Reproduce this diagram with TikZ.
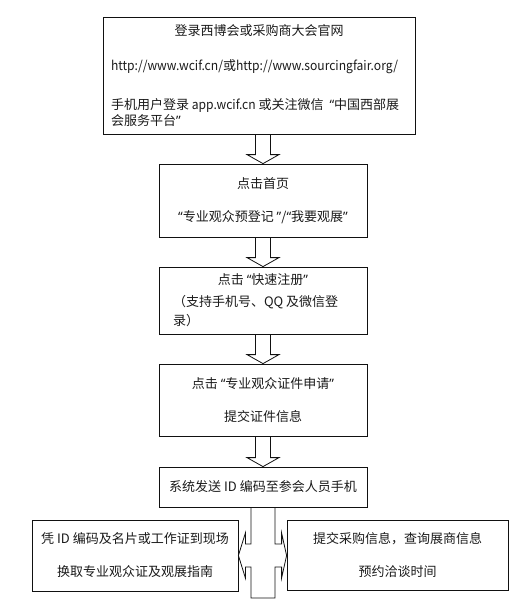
\documentclass[tikz,border=0pt]{standalone}
\usepackage{fontspec}
\setmainfont{Noto Sans CJK SC}
\newfontfamily\latn{Noto Sans CJK SC}[FakeStretch=0.93]
\newfontfamily\qfont{Noto Sans}
\usetikzlibrary{positioning,calc}
\definecolor{ink}{HTML}{1A1A1A}
\definecolor{edge}{HTML}{111111}
\newcommand{\shw}{7.5}  % half shaft width of the block arrows (px)
\newcommand{\hdw}{16}   % half head width (px)
\newcommand{\hdl}{9}    % head length (px)
\newcommand{\qo}{{\qfont “}}
\newcommand{\qc}{{\qfont ”}}
\newcommand{\midline}[1]{\hspace*{\fill}#1\hspace*{\fill}\mbox{}}

\begin{document}
\begin{tikzpicture}[
  x=0.75pt, y=-0.75pt,
  font=\fontsize{9.75}{12}\selectfont\color{ink},
  stepbox/.style={draw=edge, line width=0.6pt, inner sep=0pt, minimum width=156pt},
  blockarr/.style={draw=edge, line width=0.6pt, line join=miter},
]
\useasboundingbox (0,0) rectangle (516,603);

% ---- Main column of steps ---------------------------------------------------
\node[stepbox, minimum width=234pt, minimum height=87.75pt,
      text width=222pt, align=flush left] (b1) at (259,75.5) {%
  \midline{登录西博会或采购商大会官网}\\[14pt]
  {\latn http://www.wcif.cn/}或{\latn http://www.sourcingfair.org/}\\[17pt]
  手机用户登录 {\latn app.wcif.cn} 或关注微信 \ \qo 中国西部展\\
  会服务平台\qc};

\node[stepbox, minimum height=54.75pt, align=center] (b2) at (263,200.5) {%
  点击首页\\[12.75pt]
  \qo 专业观众预登记 \qc/\qo 我要观展\qc};

\node[stepbox, minimum height=50.25pt, text width=135pt, align=flush left]
  (b3) at (263,300.5) {%
  \midline{点击 \qo 快速注册\qc}\\[4.5pt]
  （支持手机号、QQ 及微信登\\[2.25pt]
  录）};

\node[stepbox, minimum height=54pt, align=center] (b4) at (263,400) {%
  点击 \qo 专业观众证件申请\qc\\[12.75pt]
  提交证件信息};

\node[stepbox, minimum height=30pt] (b5) at (263,487)
  {系统发送 ID 编码至参会人员手机};

% ---- Two outcomes -----------------------------------------------------------
\node[stepbox, minimum width=154.5pt, minimum height=53.25pt, align=center]
  (lbox) at (135,555.5) {%
  凭 ID 编码及名片或工作证到现场\\[12.75pt]
  换取专业观众证及观展指南};

\node[stepbox, minimum width=165.75pt, minimum height=52.5pt, align=center]
  (rbox) at (397.5,555.5) {%
  提交采购信息，查询展商信息\\[12.75pt]
  预约洽谈时间};

% ---- Block arrows between steps ---------------------------------------------
\foreach \a/\b in {b1/b2,b2/b3,b3/b4,b4/b5} {
  \draw[blockarr] ($(\a.south -| \b.north)+(-\shw,0)$)
    -- ($(\b.north)+(-\shw,-\hdl)$) -- ($(\b.north)+(-\hdw,-\hdl)$)
    -- (\b.north)
    -- ($(\b.north)+(\hdw,-\hdl)$) -- ($(\b.north)+(\shw,-\hdl)$)
    -- ($(\a.south -| \b.north)+(\shw,0)$);
}

% split arrow: down from the last step, out to both sides
\coordinate (ctop) at (b5.south);
\coordinate (cbot) at (263,598);
\draw[blockarr] ($(ctop)+(-12,0)$) |- ($(lbox.east)+(7,-11.5)$)
  -- ++(0,-11) -- (lbox.east) -- ($(lbox.east)+(7,22.5)$) -- ++(0,-11)
  -| ($(cbot)+(-12,0)$) -- ($(cbot)+(12,0)$)
  |- ($(rbox.west)+(-5,11.5)$) -- ++(0,11) -- (rbox.west)
  -- ($(rbox.west)+(-5,-22.5)$) -- ++(0,11) -| ($(ctop)+(12,0)$);

\end{tikzpicture}
\end{document}
